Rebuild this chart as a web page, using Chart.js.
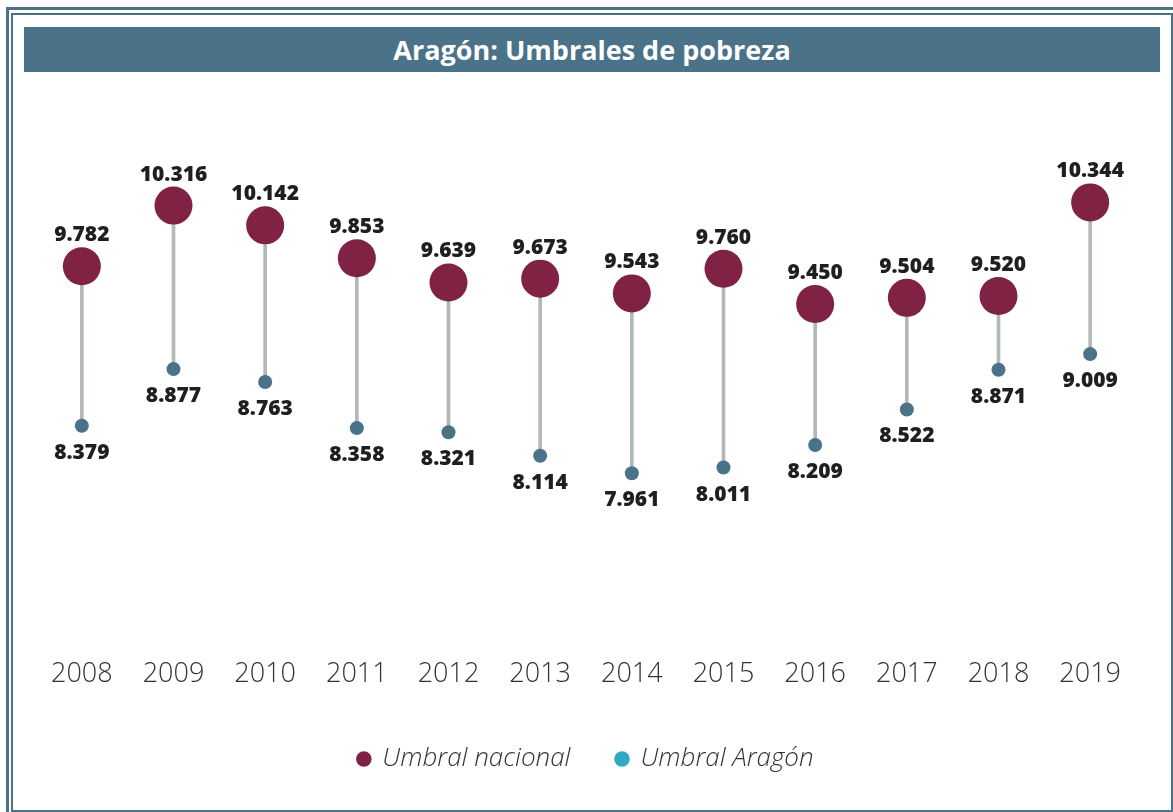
<!DOCTYPE html>
<html>
<head>
<meta charset="utf-8">
<script src="https://cdn.jsdelivr.net/npm/chart.js@4"></script>
<style>
  html, body { margin: 0; padding: 0; background: #fff; }
  body { width: 1173px; height: 812px; position: relative; overflow: hidden; }
  .outer { position: absolute; left: 6px; top: 7px; width: 1200px; height: 900px;
           border-top: 3px solid #4a7289; border-left: 3px solid #4a7289; }
  .inner { position: absolute; left: 11px; top: 13px; width: 1158px; height: 795px;
           border: 2px solid #4a7289; }
  .title { position: absolute; left: 24px; top: 27px; width: 1136px; height: 45px;
           background: #4a7289; color: #fff; text-align: center; line-height: 45px;
           font-family: "Open Sans", sans-serif; font-weight: 700; font-size: 27px; }
  .wrap { position: absolute; left: 14px; top: 80px; width: 1156px; height: 720px; }
</style>
</head>
<body>
<div class="outer"></div>
<div class="inner"></div>
<div class="title">Aragón: Umbrales de pobreza</div>
<div class="wrap"><canvas id="chart" width="1156" height="720"></canvas></div>
<script>
// valores en miles de euros
var years = ['2008', '2009', '2010', '2011', '2012', '2013', '2014', '2015', '2016', '2017', '2018', '2019'];
var umbralNacional = [9.782, 10.316, 10.142, 9.853, 9.639, 9.673, 9.543, 9.760, 9.450, 9.504, 9.520, 10.344];
var umbralAragon = [8.379, 8.877, 8.763, 8.358, 8.321, 8.114, 7.961, 8.011, 8.209, 8.522, 8.871, 9.009];

var colorNacional = '#7f2244';
var colorAragon = '#4a7289';
var colorAragonLegend = '#2fa9c4';

var connectors = [];
for (var i = 0; i < years.length; i++) {
    connectors.push([umbralAragon[i], umbralNacional[i]]);
}

// etiquetas de valor encima / debajo de los puntos
var valueLabels = {
    id: 'valueLabels',
    afterDatasetsDraw: function (chart) {
        var ctx = chart.ctx;
        ctx.save();
        ctx.font = '800 21px "Open Sans", sans-serif';
        ctx.fillStyle = '#1f1f1f';
        ctx.textAlign = 'center';
        ctx.textBaseline = 'middle';
        chart.getDatasetMeta(0).data.forEach(function (pt, i) {
            ctx.fillText(umbralNacional[i].toFixed(3), pt.x, pt.y - 31);
        });
        chart.getDatasetMeta(1).data.forEach(function (pt, i) {
            ctx.fillText(umbralAragon[i].toFixed(3), pt.x, pt.y + 27);
        });
        ctx.restore();
    }
};

var ctx = document.getElementById('chart').getContext('2d');
var chart = new Chart(ctx, {
    type: 'bar',
    data: {
        labels: years,
        datasets: [{
            type: 'line',
            label: 'Umbral nacional',
            data: umbralNacional,
            showLine: false,
            pointRadius: 19,
            pointHoverRadius: 19,
            pointBackgroundColor: colorNacional,
            pointBorderWidth: 0,
            backgroundColor: colorNacional,
            borderColor: colorNacional,
            order: 1
        }, {
            type: 'line',
            label: 'Umbral Aragón',
            data: umbralAragon,
            showLine: false,
            pointRadius: 7,
            pointHoverRadius: 7,
            pointBackgroundColor: colorAragon,
            pointBorderWidth: 0,
            backgroundColor: colorAragonLegend,
            borderColor: colorAragonLegend,
            order: 2
        }, {
            label: 'conector',
            data: connectors,
            backgroundColor: '#b3b7b7',
            barThickness: 3,
            order: 3
        }]
    },
    options: {
        responsive: false,
        animation: false,
        layout: { padding: { left: 22, right: 34, top: 20, bottom: 18 } },
        scales: {
            x: {
                grid: { display: false, drawTicks: false },
                border: { display: false },
                ticks: {
                    color: '#333',
                    padding: 8,
                    font: { family: '"Open Sans", sans-serif', size: 27, weight: 300 }
                },
                afterFit: function (scale) { scale.height += 1; }
            },
            y: {
                display: false,
                min: 6.40,
                max: 11.245
            }
        },
        plugins: {
            tooltip: { enabled: false },
            legend: {
                position: 'bottom',
                labels: {
                    usePointStyle: true,
                    pointStyle: 'circle',
                    boxWidth: 11,
                    boxHeight: 11,
                    padding: 46,
                    color: '#333',
                    font: { family: '"Open Sans", sans-serif', size: 26, style: 'italic', weight: 300 },
                    filter: function (item) { return item.datasetIndex !== 2; },
                    generateLabels: function (chart) {
                        var items = Chart.defaults.plugins.legend.labels.generateLabels(chart);
                        items.forEach(function (it) {
                            var c = it.datasetIndex === 0 ? colorNacional : colorAragonLegend;
                            it.fillStyle = c;
                            it.strokeStyle = c;
                            it.lineWidth = 0;
                        });
                        return items;
                    }
                }
            }
        }
    },
    plugins: [valueLabels]
});
</script>
</body>
</html>
